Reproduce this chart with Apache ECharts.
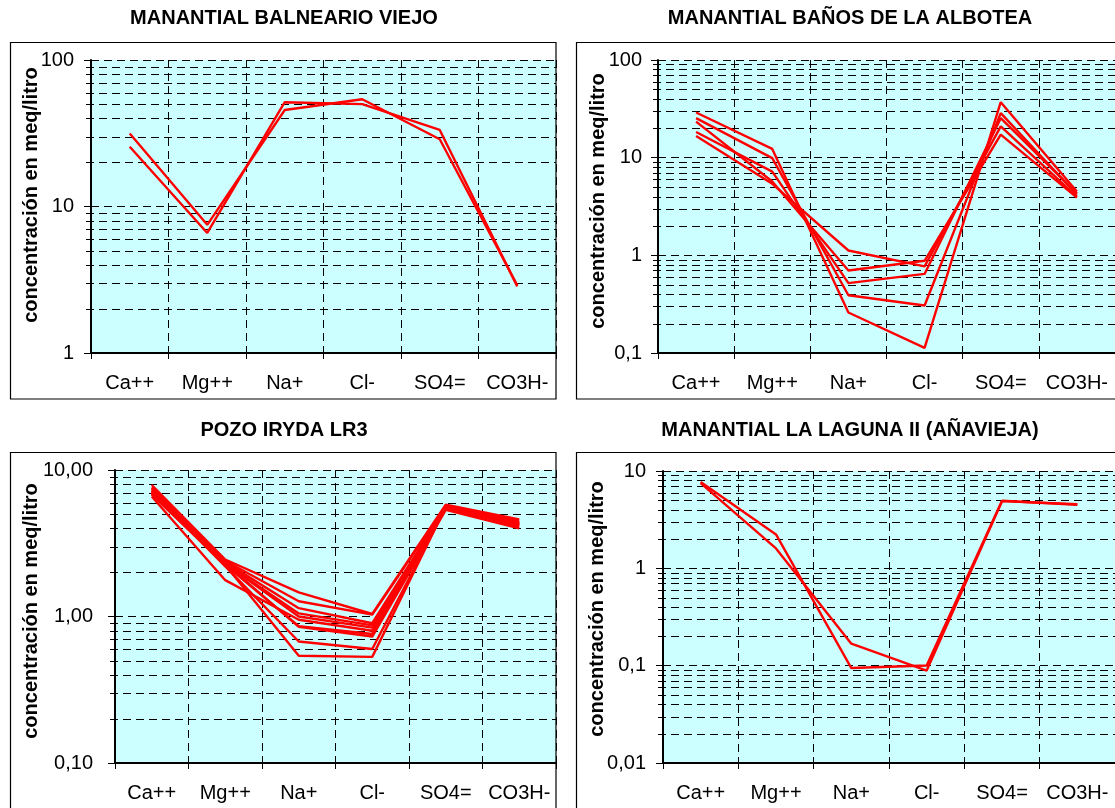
<!DOCTYPE html>
<html>
<head>
<meta charset="utf-8">
<script src="https://cdn.jsdelivr.net/npm/echarts@6/dist/echarts.min.js"></script>
<style>
  html, body { margin: 0; padding: 0; background: #ffffff; }
  #chart { width: 1115px; height: 808px; }
</style>
</head>
<body>
<div id="chart"></div>
<script>
// Major ions on the horizontal axis (Schoeller-type diagram)
const ions = ['Ca++', 'Mg++', 'Na+', 'Cl-', 'SO4=', 'CO3H-'];

// MANANTIAL BALNEARIO VIEJO — meq/l per sample, in the order of `ions`
const balnearioViejo = [
  [31.5, 7.5, 45.6, 54.0, 28.8, 2.90],
  [25.6, 6.6, 51.5, 50.0, 33.3, 2.85]
];
const balnearioTicks = ['1', '10', '100'];

// MANANTIAL BAÑOS DE LA ALBOTEA
const albotea = [
  [29.0, 12.3, 0.26, 0.113, 37.0, 4.5],
  [25.4, 9.9, 0.39, 0.306, 28.6, 4.2],
  [23.4, 5.7, 0.70, 0.88, 17.2, 3.9],
  [18.3, 7.2, 0.52, 0.645, 25.4, 4.3],
  [16.7, 5.4, 1.12, 0.77, 20.9, 4.0]
];
const alboteaTicks = ['0,1', '1', '10', '100'];

// POZO IRYDA LR3
const iryda = [
  [7.9, 2.45, 1.46, 1.04, 5.8, 4.6],
  [7.6, 2.40, 1.27, 1.03, 5.7, 4.5],
  [7.3, 2.35, 1.14, 0.90, 5.6, 4.4],
  [7.5, 2.30, 1.05, 0.87, 5.5, 4.3],
  [7.0, 2.30, 1.00, 0.84, 5.4, 4.2],
  [6.6, 1.77, 0.95, 0.80, 5.5, 4.3],
  [7.2, 2.25, 0.86, 0.76, 5.6, 4.1],
  [6.9, 2.30, 0.85, 0.73, 5.35, 4.0],
  [7.1, 2.20, 0.675, 0.60, 5.5, 4.2],
  [6.8, 2.25, 0.54, 0.53, 5.6, 4.3]
];
const irydaTicks = ['0,10', '1,00', '10,00'];

// MANANTIAL LA LAGUNA II (AÑAVIEJA)
const laguna = [
  [7.7, 2.23, 0.0945, 0.1004, 4.95, 4.5],
  [7.5, 1.60, 0.168, 0.089, 4.90, 4.55]
];
const lagunaTicks = ['0,01', '0,1', '1', '10'];

const yName = 'concentración en meq/litro';
const FONT = '"Liberation Sans", Arial, sans-serif';

const panels = [
  { title: 'MANANTIAL BALNEARIO VIEJO', rows: balnearioViejo, ticks: balnearioTicks, min: 1, max: 100,
    grid: { left: 91, top: 60, width: 465, height: 293 }, frame: [10.5, 42.5, 545.5, 356.5],
    titlePos: [284, 18.5], namePos: [31, 195], labelMargin: 17 },
  { title: 'MANANTIAL BAÑOS DE LA ALBOTEA', rows: albotea, ticks: alboteaTicks, min: 0.1, max: 100,
    grid: { left: 658, top: 60, width: 463, height: 293 }, frame: [576.5, 42.5, 560, 356.5],
    titlePos: [850, 18.5], namePos: [598, 201], labelMargin: 16 },
  { title: 'POZO IRYDA LR3', rows: iryda, ticks: irydaTicks, min: 0.1, max: 10,
    grid: { left: 115, top: 470, width: 441, height: 293 }, frame: [10.5, 452.5, 545.5, 370],
    titlePos: [284, 430], namePos: [31, 611], labelMargin: 22 },
  { title: 'MANANTIAL LA LAGUNA II (AÑAVIEJA)', rows: laguna, ticks: lagunaTicks, min: 0.01, max: 10,
    grid: { left: 663, top: 471, width: 459, height: 292 }, frame: [576.5, 452.5, 560, 370],
    titlePos: [850, 430], namePos: [597, 609], labelMargin: 17 }
];

// Intermediate log gridlines: 2..9 in every decade of the axis range
function minorValues(min, max) {
  const out = [];
  for (let d = min; d < max * 0.999; d *= 10) {
    for (let k = 2; k <= 9; k++) out.push(+(k * d).toPrecision(6));
  }
  return out;
}

const grids = [], xAxes = [], yAxes = [], series = [], graphics = [];

panels.forEach((p, i) => {
  grids.push(Object.assign({
    show: true, backgroundColor: '#CCFFFF', borderWidth: 0, containLabel: false
  }, p.grid));

  xAxes.push({
    type: 'category', gridIndex: i, data: ions, boundaryGap: true,
    axisLine: { onZero: false, lineStyle: { color: '#000', width: 2 } },
    axisTick: { show: true, length: 6, lineStyle: { color: '#000', width: 1 } },
    axisLabel: { interval: 0, color: '#000', fontFamily: FONT, fontSize: 20, margin: 20 },
    splitLine: { show: true, lineStyle: { color: '#000', width: 1, type: [8, 5] } }
  });

  const lo = Math.log10(p.min);
  yAxes.push({
    type: 'log', logBase: 10, gridIndex: i, min: p.min, max: p.max,
    axisLine: { show: true, onZero: false, lineStyle: { color: '#000', width: 2 } },
    axisTick: { show: true, length: 7, lineStyle: { color: '#000', width: 1 } },
    axisLabel: {
      color: '#000', fontFamily: FONT, fontSize: 20, margin: p.labelMargin,
      formatter: v => p.ticks[Math.round(Math.log10(v) - lo)]
    },
    splitLine: { show: true, lineStyle: { color: '#000', width: 1, type: [8, 5] } }
  });

  // dashed minor gridlines, each starting a few pixels left of the value axis
  series.push({
    type: 'custom', xAxisIndex: i, yAxisIndex: i, silent: true, z: 1, animation: false,
    data: minorValues(p.min, p.max).map(v => [0, v]),
    renderItem: (params, api) => {
      const cs = params.coordSys;
      const y = Math.round(api.coord([0, api.value(1)])[1]) + 0.5;
      return {
        type: 'line',
        shape: { x1: cs.x - 5, y1: y, x2: cs.x + cs.width, y2: y },
        style: { stroke: '#000', lineWidth: 1, lineDash: [8, 5] }
      };
    }
  });

  p.rows.forEach(row => {
    series.push({
      type: 'line', xAxisIndex: i, yAxisIndex: i, data: row,
      symbol: 'none', showSymbol: false, silent: true, animation: false, z: 3,
      lineStyle: { color: '#FF0000', width: 2.4 }
    });
  });

  graphics.push({
    type: 'rect', silent: true, z: 10,
    shape: { x: p.frame[0], y: p.frame[1], width: p.frame[2], height: p.frame[3] },
    style: { fill: 'none', stroke: '#000', lineWidth: 1.2 }
  });
  graphics.push({
    type: 'text', silent: true, z: 10, x: p.titlePos[0], y: p.titlePos[1],
    style: {
      text: p.title, fill: '#000', fontFamily: FONT, fontSize: 20, fontWeight: 'bold',
      align: 'center', verticalAlign: 'middle'
    }
  });
  // rotated value-axis title
  graphics.push({
    type: 'text', silent: true, z: 10, x: p.namePos[0], y: p.namePos[1], rotation: Math.PI / 2,
    style: {
      text: yName, fill: '#000', fontFamily: FONT, fontSize: 20, fontWeight: 'bold',
      align: 'center', verticalAlign: 'middle'
    }
  });
});

const chart = echarts.init(document.getElementById('chart'), null, { renderer: 'canvas' });
chart.setOption({
  backgroundColor: '#ffffff',
  animation: false,
  grid: grids,
  xAxis: xAxes,
  yAxis: yAxes,
  series: series,
  graphic: graphics
});
</script>
</body>
</html>
